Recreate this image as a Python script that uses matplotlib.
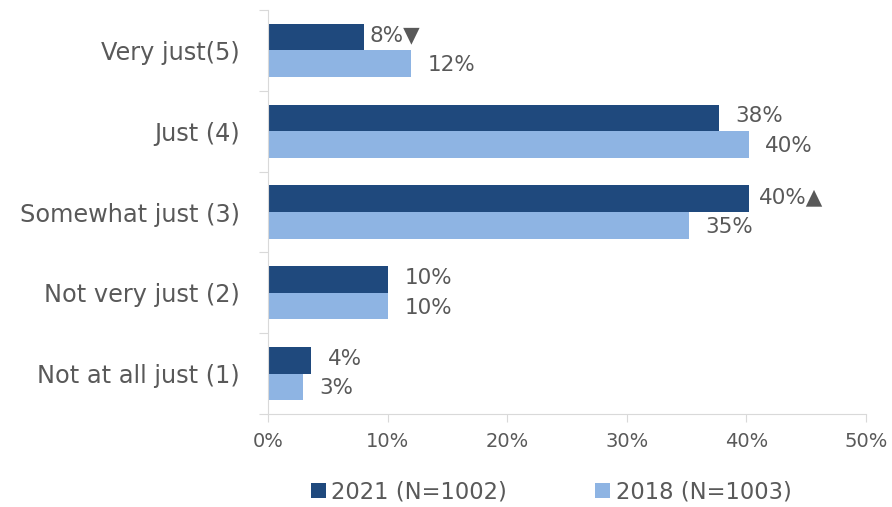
import numpy as np
import matplotlib
matplotlib.use("Agg")
import matplotlib.pyplot as plt

categories = ["Very just(5)", "Just (4)", "Somewhat just (3)", "Not very just (2)", "Not at all just (1)"]
vals_2021 = [8.0, 37.7, 40.2, 10.0, 3.6]
vals_2018 = [12.0, 40.2, 35.2, 10.0, 2.9]
labels_2021 = ["8%", "38%", "40%", "10%", "4%"]
labels_2018 = ["12%", "40%", "35%", "10%", "3%"]
marks_2021 = ["▼", "", "▲", "", ""]
series_names = ["2021 (N=1002)", "2018 (N=1003)"]

dark = "#1F497D"
light = "#8EB4E3"
grey_txt = "#595959"
axis_col = "#D9D9D9"

plt.rcParams['font.family'] = ['DejaVu Sans']

fig = plt.figure(figsize=(8.92, 5.07), dpi=100)
ax = fig.add_axes([0.3004, 0.1834, 0.6704, 0.7969])

y = np.arange(len(categories))
h = 0.33
ax.barh(y - h / 2, vals_2021, height=h, color=dark, label=series_names[0])
ax.barh(y + h / 2, vals_2018, height=h, color=light, label=series_names[1])

# little gap after bars with a significance triangle
mark_off = {"▼": 4, "▲": 7}
for i in range(len(categories)):
    txt = labels_2021[i] + marks_2021[i]
    off = mark_off.get(marks_2021[i], 12)
    ax.annotate(txt, (vals_2021[i], y[i] - h / 2), xytext=(off, 1), textcoords="offset points",
                va="center", ha="left", fontsize=15.5, color=grey_txt)
    ax.annotate(labels_2018[i], (vals_2018[i], y[i] + h / 2), xytext=(12, -1), textcoords="offset points",
                va="center", ha="left", fontsize=15.5, color=grey_txt)

ax.set_xlim(0, 50)
ax.set_ylim(4.5, -0.5)
ax.set_xticks(np.arange(0, 51, 10))
ax.set_xticklabels([f"{v}%" for v in range(0, 51, 10)], fontsize=14, color=grey_txt)
ax.set_yticks(np.arange(-0.5, 5, 1))
ax.set_yticklabels([])
ax.set_yticks(y, minor=True)
ax.set_yticklabels(categories, minor=True, fontsize=17.3, color=grey_txt)
ax.tick_params(axis="y", which="minor", length=0, pad=20)
ax.tick_params(axis="y", which="major", length=6.5, color=axis_col)
ax.tick_params(axis="x", length=6, color=axis_col, pad=7)

for s in ["top", "right"]:
    ax.spines[s].set_visible(False)
for s in ["left", "bottom"]:
    ax.spines[s].set_color(axis_col)

fig.legend(loc="center", bbox_to_anchor=(0.618, 0.03), ncol=2, frameon=False,
           fontsize=16.3, labelcolor=grey_txt, handlelength=0.65, handleheight=0.65,
           handletextpad=0.25, columnspacing=3.9)

fig.savefig("out.png", dpi=100)
